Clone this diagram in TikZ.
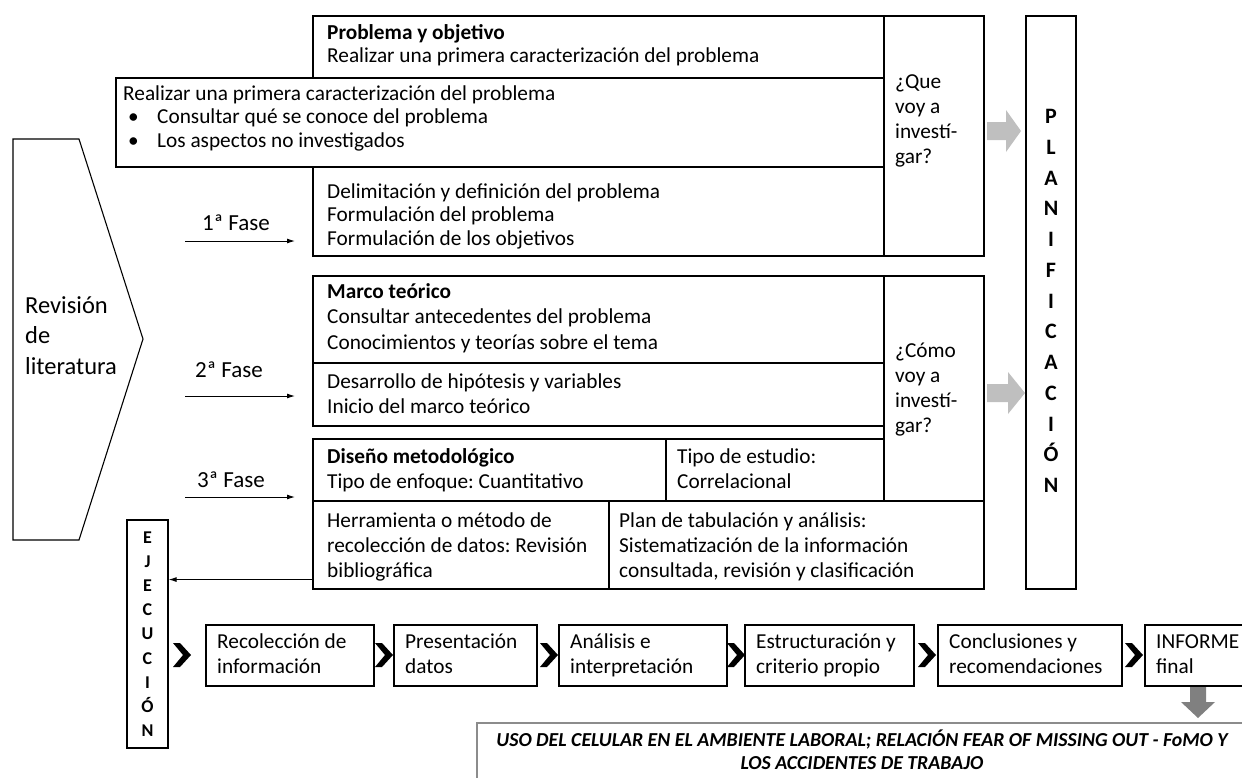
\documentclass[tikz,border=0pt]{standalone}
\usepackage{fontspec}
\setmainfont{Carlito}
\usetikzlibrary{arrows.meta,calc,fit}
\frenchspacing
\newcommand\lns[1]{\vtop{\let\\\cr\halign{##\hfil\cr#1\crcr}}}
\newcommand\bul{\hbox to 34pt{\hskip5pt\textbullet\hfil}}
\newcommand\chev[1]{\fill (#1) ++(0,-12) -- ++(7,0) -- ++(11,12) -- ++(-11,12) -- ++(-7,0) -- ++(10,-12) -- cycle;}
\tikzset{
  bx/.style={draw=black, line width=1.1pt, inner sep=0pt},
  txt/.style={anchor=base west, inner sep=0pt, font=\fontsize{21.3}{24.5}\selectfont},
  tight/.style={font=\fontsize{21.3}{23.5}\selectfont},
  wide/.style={font=\fontsize{21.3}{25}\selectfont},
  fase/.style={anchor=base west, inner sep=0pt, font=\fontsize{23}{25}\selectfont},
  big/.style={anchor=base west, inner sep=0pt, font=\fontsize{24.5}{30.5}\selectfont},
  letP/.style={anchor=base, inner sep=0pt, font=\fontsize{22}{22}\selectfont\bfseries},
  letE/.style={anchor=base, inner sep=0pt, font=\fontsize{18}{18}\selectfont\bfseries},
  arr/.style={line width=1pt, -{Latex[length=8pt,width=5pt]}},
  blockarrow/.style={fill=black!25},
  ttl/.style={anchor=base, inner sep=0pt, font=\fontsize{19.8}{23}\selectfont\bfseries\itshape},
}
\begin{document}
\begin{tikzpicture}[x=1pt,y=-1pt]
\useasboundingbox (0,0) rectangle (1242,777);
\clip (0,0) rectangle (1242,777);

% Revision de literatura
\draw[line width=1.1pt] (13,139) -- (79,139) -- (143,339) -- (79,540) -- (13,540) -- cycle;
\node[big] (rev) at (25,313) {\lns{Revisión\\de\\literatura}};

% first group
\node[bx, fit={(313,16)(884,256)}] (pb) {};
\node[bx, fit={(884,16)(984,256)}] (q1) {};
\node[bx, fill=white, fit={(116,78)(884,167)}] (ov) {};
\node[txt, tight] (pbt) at (327,39) {\lns{\textbf{Problema y objetivo}\\Realizar una primera caracterización del problema}};
\node[txt, tight] (ovt) at (123,100) {\lns{Realizar una primera caracterización del problema\\\bul Consultar qué se conoce del problema\\\bul Los aspectos no investigados}};
\node[txt, tight] (dlt) at (327,198) {\lns{Delimitación y definición del problema\\Formulación del problema\\Formulación de los objetivos}};
\node[txt, wide] (q1t) at (895,88) {\lns{¿Que\\voy a\\investí-\\gar?}};

% second group
\node[bx, fit={(313,276)(884,363)}] (mt) {};
\node[bx, fit={(313,363)(884,426)}] (dh) {};
\node[bx, fit={(313,439)(666,501)}] (dm) {};
\node[bx, fit={(666,439)(884,501)}] (te) {};
\node[bx, fit={(884,276)(984,501)}] (q2) {};
\node[bx, fit={(313,501)(609,589)}] (hr) {};
\node[bx, fit={(609,501)(984,589)}] (pt) {};
\node[txt, font=\fontsize{21.3}{25.5}\selectfont] (mtt) at (327,298) {\lns{\textbf{Marco teórico}\\Consultar antecedentes del problema\\Conocimientos y teorías sobre el tema}};
\node[txt, wide] (dht) at (327,388) {\lns{Desarrollo de hipótesis y variables\\Inicio del marco teórico}};
\node[txt, wide] (dmt) at (327,463) {\lns{\textbf{Diseño metodológico}\\Tipo de enfoque: Cuantitativo}};
\node[txt, wide] (tet) at (677,463) {\lns{Tipo de estudio:\\Correlacional}};
\node[txt, wide] (hrt) at (327,527) {\lns{Herramienta o método de\\recolección de datos: Revisión\\bibliográfica}};
\node[txt, wide] (ptt) at (619,527) {\lns{Plan de tabulación y análisis:\\Sistematización de la información\\consultada, revisión y clasificación}};
\node[txt, wide] (q2t) at (895,357) {\lns{¿Cómo\\voy a\\investí-\\gar?}};

% fase arrows
\coordinate (f1s) at (185,241); \coordinate (f1e) at (295,241);
\coordinate (f2s) at (185,396); \coordinate (f2e) at (295,396);
\coordinate (f3s) at (185,497); \coordinate (f3e) at (295,497);
\draw[arr] (f1s) -- (f1e);
\draw[arr] (f2s) -- (f2e);
\draw[arr] (f3s) -- (f3e);
\node[fase] (f1) at (202,230) {1ª Fase};
\node[fase] (f2) at (195,377) {2ª Fase};
\node[fase] (f3) at (197,487) {3ª Fase};

% planificacion
\node[bx, fit={(1026,16)(1076,589)}] (plan) {};
\foreach \ch [count=\i from 0] in {P,L,A,N,I,F,I,C,A,C,I,Ó,N}
  \node[letP] (pl\i) at (1051,123.5+30.75*\i) {\ch};

% gray block arrows
\fill[blockarrow] (987,122) -- (1006,122) -- (1006,110) -- (1021,131) -- (1006,152) -- (1006,140) -- (987,140) -- cycle;
\fill[blockarrow] (987,384) -- (1008,384) -- (1008,372) -- (1025,393) -- (1008,414) -- (1008,402) -- (987,402) -- cycle;

% ejecucion
\node[bx, fit={(127,520)(168,748)}] (ejec) {};
\foreach \ch [count=\i from 0] in {E,J,E,C,U,C,I,Ó,N}
  \node[letE] (ej\i) at (147.5,543.5+24.1*\i) {\ch};
\draw[arr] ($(hr.south west)+(0,-10)$) coordinate (a1) -- (a1 -| ejec.east);

% bottom process
\node[bx, fit={(206,625)(374,686)}] (b1) {};
\node[bx, fit={(394,625)(537,686)}] (b2) {};
\node[bx, fit={(559,625)(727,686)}] (b3) {};
\node[bx, fit={(745,625)(914,686)}] (b4) {};
\node[bx, fit={(938,625)(1122,686)}] (b5) {};
\node[bx, fit={(1145,625)(1244,686)}] (b6) {};
\node[txt, wide] (b1t) at (217,648) {\lns{Recolección de\\información}};
\node[txt, wide] (b2t) at (405,648) {\lns{Presentación\\datos}};
\node[txt, wide] (b3t) at (570,648) {\lns{Análisis e\\interpretación}};
\node[txt, wide] (b4t) at (756,648) {\lns{Estructuración y\\criterio propio}};
\node[txt, wide] (b5t) at (949,648) {\lns{Conclusiones y\\recomendaciones}};
\node[txt, wide] (b6t) at (1156,648) {\lns{INFORME\\final}};
\chev{173,655}
\chev{375,655}
\chev{540,655}
\chev{727,655}
\chev{918,655}
\chev{1125,655}

% down arrow
\fill[black!50] (1190,687) -- (1206,687) -- (1206,702) -- (1215,702) -- (1198,718) -- (1181,702) -- (1190,702) -- cycle;

% title
\node[draw=black!45, line width=1.6pt, inner sep=0pt, fit={(477,723)(1252,795)}] (title) {};
\node[ttl] (tl1) at (862,746) {USO DEL CELULAR EN EL AMBIENTE LABORAL; RELACIÓN FEAR OF MISSING OUT - FoMO Y};
\node[ttl] (tl2) at (862,769) {LOS ACCIDENTES DE TRABAJO};
\end{tikzpicture}
\end{document}
